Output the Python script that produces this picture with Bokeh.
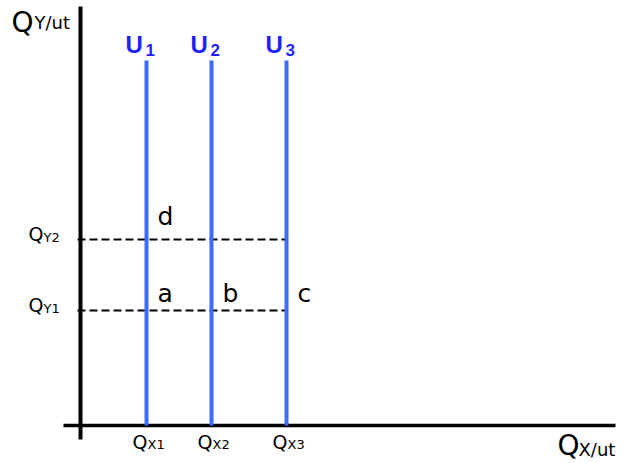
from bokeh.plotting import figure
from bokeh.models import Range1d
from bokeh.core.properties import value
from bokeh.embed import file_html
from bokeh.resources import INLINE

# ---- data (origin of the economic diagram at (0, 0)) ----
qx_vals = [66, 131, 206]            # Qx1, Qx2, Qx3 (positions of U1..U3)
qy_vals = [115, 186]                # QY1, QY2
u_top = 365                          # top of the vertical utility lines
u_names = ["U", "U", "U"]
u_subs = ["1", "2", "3"]
qx_subs = ["X1", "X2", "X3"]
qy_subs = ["Y1", "Y2"]
x_axis_ext = [-17, 535]
y_axis_ext = [-14, 419]
pts_low = ["a", "b", "c"]           # points on QY1 line
pts_high = ["d"]                    # points on QY2 line

FONT = value("DejaVu Sans")
UFONT = value("Liberation Sans")
BLUE_LINE = "#3c6cff"
BLUE_TXT = "#1f1fff"
S = 9  # vertical correction for text baseline rendering

p = figure(width=626, height=463, output_backend="svg", toolbar_location=None,
           x_range=Range1d(-80, 546), y_range=Range1d(-38, 425),
           min_border=0)
p.xaxis.visible = False
p.yaxis.visible = False
p.grid.visible = False
p.outline_line_color = None
p.background_fill_color = "white"

# axes
p.segment(x0=[x_axis_ext[0]], y0=[0], x1=[x_axis_ext[1]], y1=[0],
          line_color="black", line_width=3.5)
p.segment(x0=[0], y0=[y_axis_ext[0]], x1=[0], y1=[y_axis_ext[1]],
          line_color="black", line_width=4)

# dashed horizontal lines
p.segment(x0=[-3] * len(qy_vals), y0=qy_vals, x1=[qx_vals[-1]] * len(qy_vals), y1=qy_vals,
          line_color="black", line_width=2, line_dash="8 4")

# vertical utility lines
p.segment(x0=qx_vals, y0=[0] * 3, x1=qx_vals, y1=[u_top] * 3,
          line_color=BLUE_LINE, line_width=4)

def txt(xs, ys, t, size, color="black", style="normal", font=FONT):
    p.text(x=xs, y=[y + S for y in ys], text=t, text_font=font,
           text_font_size=size, text_font_style=style, text_color=color,
           text_baseline="alphabetic", text_align="left")

# U labels
txt([x - 21 for x in qx_vals], [u_top + 7] * 3, u_names, "24px", BLUE_TXT, "bold", UFONT)
txt([x - 1 for x in qx_vals], [u_top + 2] * 3, u_subs, "17px", BLUE_TXT, "bold", UFONT)

# point letters
txt([x + 11 for x in qx_vals[:1]], [qy_vals[1] + 14], pts_high, "25px")
txt([x + 11 for x in qx_vals], [qy_vals[0] + 8] * 3, pts_low, "25px")

# y tick labels
txt([-52] * 2, [q - 3 for q in qy_vals], ["Q"] * 2, "19px")
txt([-37] * 2, [q - 7 for q in qy_vals], qy_subs, "13px")

# x tick labels
txt([x - 14 for x in qx_vals], [-25] * 3, ["Q"] * 3, "19px")
txt([x + 1 for x in qx_vals], [-28] * 3, qx_subs, "13px")

# axis titles
txt([-69], [394], ["Q"], "28px")
txt([-46], [394], ["Y/ut"], "18px")
txt([477], [-29], ["Q"], "28px")
txt([498], [-33], ["X/ut"], "18px")

open("out.html", "w").write(file_html(p, INLINE))
